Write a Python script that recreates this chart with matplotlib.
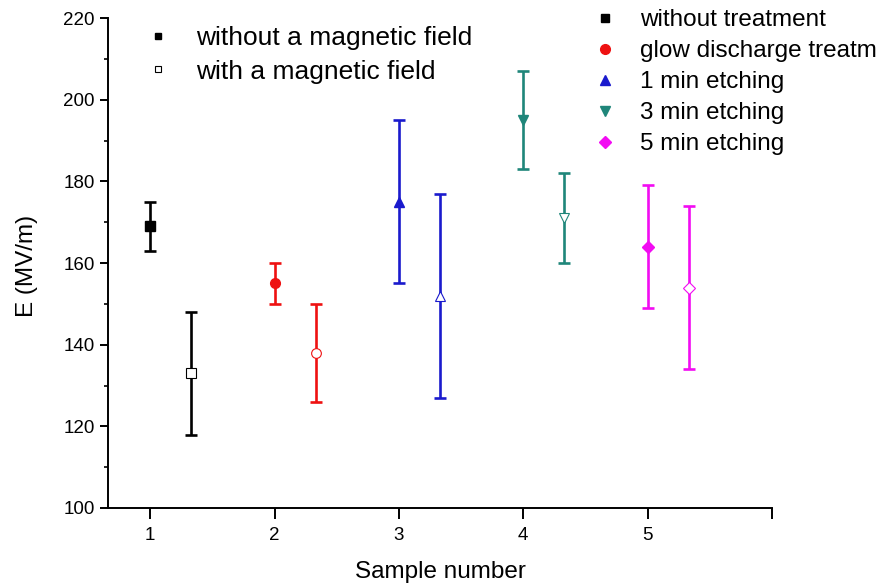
import numpy as np
import matplotlib
matplotlib.use("Agg")
import matplotlib.pyplot as plt
from matplotlib.lines import Line2D
from matplotlib.ticker import MultipleLocator

plt.rcParams['font.family'] = ['Liberation Sans', 'DejaVu Sans']

# breakdown strength per sample, with / without the magnetic field
samples = [1, 2, 3, 4, 5]
treatments = ['without treatment', 'glow discharge treatment', '1 min etching',
              '3 min etching', '5 min etching']
e_without = [169, 155, 175, 195, 164]
err_without = [6, 5, 20, 12, 15]
e_with = [133, 138, 152, 171, 154]
err_with = [15, 12, 25, 11, 20]
offset = 0.33

colors = ['black', '#ee1111', '#1a1acd', '#1f867a', '#f20cf2']
markers = ['s', 'o', '^', 'v', 'D']
msizes = [6.5, 7, 7.5, 7.5, 6]

fig = plt.figure(figsize=(8.76, 5.84), dpi=100)
ax = fig.add_axes([108 / 876, 1 - 508 / 584, 664 / 876, 490 / 584])

for i, s in enumerate(samples):
    c = colors[i]
    ax.errorbar(s, e_without[i], yerr=err_without[i], fmt='none', ecolor=c,
                elinewidth=1.9, capsize=4, capthick=1.9)
    ax.errorbar(s + offset, e_with[i], yerr=err_with[i], fmt='none', ecolor=c,
                elinewidth=1.9, capsize=4, capthick=1.9)
    ax.plot(s, e_without[i], ls='none', marker=markers[i], ms=msizes[i],
            mec=c, mfc=c, zorder=3)
    ax.plot(s + offset, e_with[i], ls='none', marker=markers[i], ms=msizes[i],
            mec=c, mfc='white', mew=0.8, zorder=3)

ax.set_xlim(0.66, 6.0)
ax.set_ylim(100, 220)
ax.set_xticks([1, 2, 3, 4, 5, 6])
ax.set_xticklabels(['1', '2', '3', '4', '5', ''])
ax.yaxis.set_major_locator(MultipleLocator(20))
ax.yaxis.set_minor_locator(MultipleLocator(10))
ax.tick_params(axis='both', direction='out', labelsize=13.5, width=1.4)
ax.tick_params(axis='x', length=8, pad=6)
ax.tick_params(axis='y', which='major', length=5.5, pad=4)
ax.tick_params(axis='y', which='minor', length=2.8, width=1.2)
for side in ['top', 'right']:
    ax.spines[side].set_visible(False)
for side in ['left', 'bottom']:
    ax.spines[side].set_linewidth(1.4)

ax.set_xlabel('Sample number', fontsize=17.5)
ax.set_ylabel('E (MV/m)', fontsize=17.5)
ax.xaxis.set_label_coords(0.5, -0.108)
ax.yaxis.set_label_coords(-0.106, 0.494)

# legend for the two field conditions
field_handles = [
    Line2D([], [], ls='none', marker='s', ms=5, color='black'),
    Line2D([], [], ls='none', marker='s', ms=5, mec='black', mfc='white', mew=0.8),
]
leg1 = fig.legend(field_handles, ['without a magnetic field', 'with a magnetic field'],
                  loc='upper left', bbox_to_anchor=(145 / 876, 1 - 26 / 584),
                  frameon=False, fontsize=19, handlelength=1.0, handletextpad=0.95,
                  labelspacing=0.36, borderpad=0, borderaxespad=0)

# legend for the surface treatments
treat_handles = [Line2D([], [], ls='none', marker=m, ms=ms, color=c)
                 for m, ms, c in zip(markers, [5.5, 7, 7.5, 7.5, 6], colors)]
leg2 = fig.legend(treat_handles, treatments, loc='upper left',
                  bbox_to_anchor=(593 / 876, 1 - 9 / 584),
                  frameon=False, fontsize=17.5, handlelength=1.0, handletextpad=0.95,
                  labelspacing=0.37, borderpad=0, borderaxespad=0)

fig.savefig('out.png', dpi=100)
